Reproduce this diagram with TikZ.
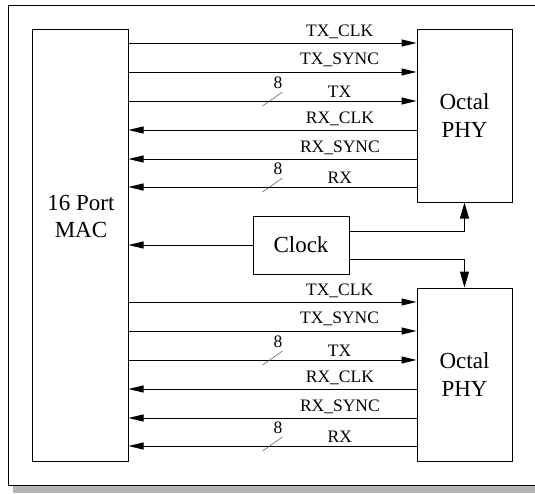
\documentclass[tikz,border=0pt]{standalone}
\usepackage{fontspec}
\setmainfont{Liberation Serif}
\usetikzlibrary{arrows.meta,positioning}
\definecolor{frame_shadow}{RGB}{180,180,180}
\definecolor{bus_gray}{RGB}{80,80,80}

\begin{document}
\begin{tikzpicture}[x=1pt, y=-1pt, line width=1pt,
    block/.style={draw, minimum width=96pt, align=center,
      font=\fontsize{23}{28}\selectfont},
    sig/.style={-{Triangle[length=15pt,width=7pt]}},
    clk/.style={-{Triangle[length=16pt,width=9pt]}},
    lbl/.style={anchor=base, inner sep=0pt, font=\fontsize{17.5}{20}\selectfont},
    buswidth/.style={draw=bus_gray, line width=0.5pt}]
  \useasboundingbox (0,0) rectangle (535,493);
  \clip (0,0) rectangle (535,493);
  % frame with drop shadow
  \fill[frame_shadow] (13,486) rectangle (545,493);
  \draw (8,5) rectangle (545,485);

  % blocks
  \node[block, minimum height=432pt] (mac) at (80,245) {};
  \node[align=center, font=\fontsize{23}{27}\selectfont]
    (macname) at (81,216) {16 Port\\MAC};
  \node[block, minimum width=95pt, minimum height=173pt]
    (phy1) at (464.5,115.5) {Octal\\PHY};
  \node[block, minimum width=95pt, minimum height=173pt]
    (phy2) at (464.5,374.5) {Octal\\PHY};
  \node[block, minimum height=58pt] (clock) at (301,245) {Clock};

  % MAC <-> PHY signals, one group per PHY
  \foreach \n/\dy in {phy1/0, phy2/259} {
    \draw[sig] (mac.east |- 0,43+\dy) --
      node[lbl, pos=.733, yshift=7pt] {TX\_CLK} (\n.west |- 0,43+\dy);
    \draw[sig] (mac.east |- 0,72+\dy) --
      node[lbl, pos=.733, yshift=8pt] {TX\_SYNC} (\n.west |- 0,72+\dy);
    \draw[sig] (mac.east |- 0,101+\dy) -- coordinate[pos=.5] (tx-\n)
      node[lbl, pos=.733, yshift=4pt] {TX} (\n.west |- 0,101+\dy);
    \draw[sig] (\n.west |- 0,130+\dy) --
      node[lbl, pos=.266, yshift=7pt] {RX\_CLK} (mac.east |- 0,130+\dy);
    \draw[sig] (\n.west |- 0,159+\dy) --
      node[lbl, pos=.266, yshift=7pt] {RX\_SYNC} (mac.east |- 0,159+\dy);
    \draw[sig] (\n.west |- 0,187+\dy) -- coordinate[pos=.5] (rx-\n)
      node[lbl, pos=.266, yshift=4pt] {RX} (mac.east |- 0,187+\dy);
    % 8 bit bus marks
    \foreach \b in {tx-\n, rx-\n}
      \draw[buswidth] ([shift={(-10,5)}]\b) -- ([shift={(10,-9)}]\b)
        node[lbl, anchor=base east, yshift=4pt] {8};
  }

  % clock distribution
  \draw[sig] (clock) -- (mac.east |- clock);
  \draw[clk] (clock.east |- 0,231) -| (phy1.south);
  \draw[clk] (clock.east |- 0,259) -| (phy2.north);
\end{tikzpicture}
\end{document}
